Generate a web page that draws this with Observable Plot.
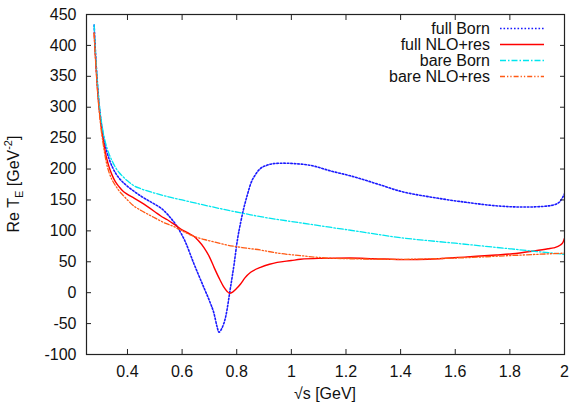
<!DOCTYPE html>
<html>
<head>
<meta charset="utf-8">
<script src="https://cdn.jsdelivr.net/npm/d3@7"></script>
<script src="https://cdn.jsdelivr.net/npm/@observablehq/plot@0.6"></script>
<style>
  html, body { margin: 0; padding: 0; background: #fff; }
  #chart svg { display: block; }
</style>
</head>
<body>
<div id="chart"></div>
<script>
// ---- data ----
const seriesNames = ["full Born", "full NLO+res", "bare Born", "bare NLO+res"];

const fullBorn = [
  [0.278,433],[0.281,405],[0.285,372],[0.29,338],[0.296,305],[0.303,278],[0.31,257],[0.317,241],
  [0.325,227],[0.333,216],[0.345,203],[0.357,193],[0.37,185],[0.385,178],[0.40,172],[0.424,164],
  [0.45,156],[0.50,143],[0.522,137],[0.55,125],[0.583,106],[0.61,84],
  [0.644,46],[0.68,8],[0.70,-13],[0.717,-34],[0.728,-55],[0.735,-64],[0.745,-58],[0.759,-40],
  [0.777,8],[0.79,45],[0.802,84],[0.815,115],[0.826,137],[0.84,160],[0.851,176],[0.87,192],
  [0.887,201],[0.91,206],[0.94,209],[0.972,209.5],[1.02,208.5],[1.07,206],[1.143,197],
  [1.216,189],[1.314,176],[1.40,164],[1.52,154],[1.643,146],[1.765,140],[1.85,138.5],
  [1.90,139],[1.95,141],[1.98,146],[2.0,160]
];
const fullNLO = [
  [0.278,420],[0.281,395],[0.285,365],[0.29,332],[0.296,300],[0.303,272],[0.31,250],[0.317,232],
  [0.325,215],[0.333,203],[0.343,191],[0.355,180],[0.37,171],[0.382,165],[0.40,159],
  [0.424,153],[0.45,146],[0.50,131],[0.522,124],[0.546,118],[0.57,111],[0.595,103],[0.62,97],
  [0.644,91],[0.66,84],[0.68,73],[0.70,58],[0.717,41],[0.735,24],[0.753,9],[0.765,2],
  [0.774,-1],[0.785,1],[0.80,7],[0.814,14],[0.83,24],[0.851,33],[0.887,41],[0.92,46],
  [0.948,49],[1.0,52],[1.033,54],[1.1,55.5],[1.216,56],[1.30,55],[1.424,53.5],[1.50,54],
  [1.643,58],[1.75,61],[1.81,63],[1.887,67.5],[1.94,71],[1.96,72.5],[1.985,77],[1.995,82],[2.0,88]
];
const bareBorn = [
  [0.278,433],[0.281,405],[0.285,373],[0.29,340],[0.296,308],[0.303,282],[0.31,262],[0.317,247],
  [0.325,234],[0.333,224],[0.345,212],[0.357,202],[0.37,194],[0.385,187],[0.40,181],[0.424,173],
  [0.45,168],[0.50,161],[0.55,155],[0.60,150],[0.668,143],[0.75,135],
  [0.851,126],[0.887,123],[1.033,113],[1.216,101],[1.40,89],[1.60,80],[1.80,71],[2.0,62]
];
const bareNLO = [
  [0.278,420],[0.281,393],[0.285,362],[0.29,328],[0.296,296],[0.303,266],[0.31,244],[0.317,224],
  [0.325,206],[0.333,194],[0.343,183],[0.355,174],[0.369,165],[0.385,157],
  [0.40,150],[0.424,140],[0.45,133],[0.50,121],[0.54,112],[0.57,107],[0.60,100],[0.644,91],
  [0.70,84],[0.765,77],[0.82,73],[0.887,69],[0.95,64],[1.033,60],[1.1,57],[1.2,55],[1.4,54],
  [1.6,56],[1.8,60],[1.9,62],[2.0,64]
];

const xTicks = [0.4, 0.6, 0.8, 1, 1.2, 1.4, 1.6, 1.8, 2];
const yTicks = [-100, -50, 0, 50, 100, 150, 200, 250, 300, 350, 400, 450];

// ---- styles ----
const styles = {
  "full Born":    {stroke: "#1a1aff", dash: "1.6,1.9", width: 1.6},
  "full NLO+res": {stroke: "#ff0000", dash: null, width: 1.4},
  "bare Born":    {stroke: "#00e5ee", dash: "6,2,1.5,2", width: 1.3},
  "bare NLO+res": {stroke: "#ff5a14", dash: "5,2,1.3,2,1.3,2", width: 1.3}
};

const table = [fullBorn, fullNLO, bareBorn, bareNLO].flatMap((arr, i) =>
  arr.map(([x, y]) => ({series: seriesNames[i], x, y})));

const W = 570, H = 403;
const mL = 86, mR = 6, mT = 14, mB = 49;
const font = "'Liberation Sans', Arial, Helvetica, sans-serif";
const fmt = d => String(d);
const axisColor = "#222";

const lineMarks = seriesNames.map(name => Plot.line(table.filter(d => d.series === name), {
  x: "x", y: "y",
  stroke: styles[name].stroke,
  strokeWidth: styles[name].width,
  strokeDasharray: styles[name].dash,
  curve: "monotone-x",
  clip: true
}));

const plot = Plot.plot({
  width: W, height: H,
  marginLeft: mL, marginRight: mR, marginTop: mT, marginBottom: mB,
  style: {fontFamily: font, fontSize: "16px", color: axisColor, background: "#fff"},
  x: {domain: [0.25, 2]},
  y: {domain: [-100, 450]},
  marks: [
    ...lineMarks,
    // inward ticks on all four sides (gnuplot style)
    Plot.axisX({ticks: xTicks, anchor: "bottom", tickSize: 5, dy: -5, fill: "none", label: null, stroke: axisColor}),
    Plot.axisX({ticks: xTicks, anchor: "top", tickSize: 5, dy: 5, fill: "none", label: null, stroke: axisColor}),
    Plot.axisY({ticks: yTicks, anchor: "left", tickSize: 5, dx: 5, fill: "none", label: null, stroke: axisColor}),
    Plot.axisY({ticks: yTicks, anchor: "right", tickSize: 5, dx: -5, fill: "none", label: null, stroke: axisColor}),
    // tick labels
    Plot.axisX({ticks: xTicks, anchor: "bottom", tickSize: 0, tickPadding: 11, stroke: "none", tickFormat: fmt, label: null, fill: "#111"}),
    Plot.axisY({ticks: yTicks, anchor: "left", tickSize: 0, tickPadding: 10, stroke: "none", tickFormat: fmt, label: null, fill: "#111"}),
    Plot.frame({stroke: axisColor, strokeWidth: 1.2})
  ]
});

document.getElementById("chart").appendChild(plot);

// ---- axis titles and legend (added into the Plot svg) ----
const svg = d3.select(plot);
const plotCx = mL + (W - mL - mR) / 2;
const plotCy = mT + (H - mT - mB) / 2;

svg.append("text")
  .attr("x", plotCx).attr("y", H - 4)
  .attr("text-anchor", "middle")
  .attr("font-family", font).attr("font-size", 16).attr("fill", "#111")
  .text("√s [GeV]");

const yl = svg.append("text")
  .attr("transform", `translate(19,${plotCy}) rotate(-90)`)
  .attr("text-anchor", "middle")
  .attr("font-family", font).attr("font-size", 16).attr("fill", "#111");
yl.append("tspan").text("Re T");
yl.append("tspan").attr("font-size", 11).attr("dy", 4).text("E");
yl.append("tspan").attr("dy", -4).text(" [GeV");
yl.append("tspan").attr("font-size", 11).attr("dy", -7).text("-2");
yl.append("tspan").attr("dy", 7).text("]");

const legX = 490, legY0 = 28.5, legDy = 16;
seriesNames.forEach((name, i) => {
  const y = legY0 + i * legDy;
  svg.append("text")
    .attr("x", legX).attr("y", y).attr("dy", "0.36em")
    .attr("text-anchor", "end")
    .attr("font-family", font).attr("font-size", 16).attr("fill", "#111")
    .text(name);
  svg.append("line")
    .attr("x1", legX + 10).attr("x2", legX + 54)
    .attr("y1", y).attr("y2", y)
    .attr("stroke", styles[name].stroke)
    .attr("stroke-width", styles[name].width)
    .attr("stroke-dasharray", styles[name].dash);
});
</script>
</body>
</html>
